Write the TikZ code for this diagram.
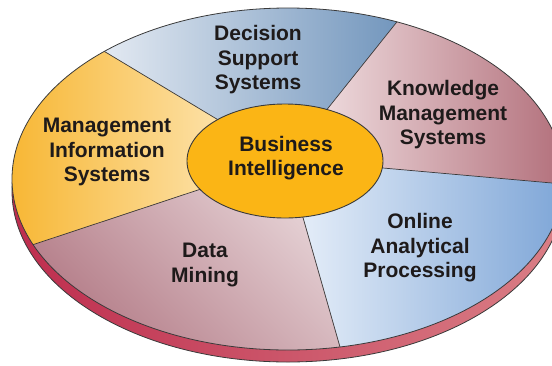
\documentclass[tikz,border=0pt]{standalone}
\usepackage{fontspec}
\setmainfont{Liberation Sans}
\usepackage{tikz}
\usetikzlibrary{calc,shapes.geometric}
\definecolor{misA}{HTML}{F7B42C}
\definecolor{misB}{HTML}{FDE6B5}
\definecolor{dssA}{HTML}{E8EDF4}
\definecolor{dssB}{HTML}{6E93BB}
\definecolor{kmsA}{HTML}{F0DFE1}
\definecolor{kmsB}{HTML}{B06B77}
\definecolor{olapA}{HTML}{EAF1FA}
\definecolor{olapB}{HTML}{7AA3D6}
\definecolor{dmA}{HTML}{B07682}
\definecolor{dmB}{HTML}{E8D6D9}
\definecolor{randA}{HTML}{BE2D4E}
\definecolor{randB}{HTML}{DA7F86}
\definecolor{biFarbe}{HTML}{FBB515}
\definecolor{linie}{HTML}{3A3A3A}
\definecolor{schrift}{HTML}{1E1A1A}
\tikzset{
  beschriftung/.style={align=center,text=schrift,font=\fontsize{21}{24.5}\selectfont\bfseries},
  trennlinie/.style={draw=linie,line width=0.7pt}
}

\begin{document}
\begin{tikzpicture}[x=1pt,y=-1pt]
%Alle Masse in Pixeln vom Bild, y zeigt nach unten
\useasboundingbox (0,0) rectangle (552,365);
  \pgfmathsetmacro{\rx}{276}
  \pgfmathsetmacro{\ry}{171}
  \pgfmathsetmacro{\dicke}{12}
\coordinate (M) at (285,161);
%innere Punkte liegen unter dem Oval, aeussere auf dem Rand
\coordinate (i1) at (225,124);   \coordinate (o1) at (107,53);
\coordinate (i2) at (321,117);   \coordinate (o2) at (396,23);
\coordinate (i3) at (366,166.5); \coordinate (o3) at (552,183);
\coordinate (i4) at (300,207);   \coordinate (o4) at (340,347);
\coordinate (i5) at (213,185);   \coordinate (o5) at (35,244);
\foreach \k in {1,...,5}{
  \coordinate (a\k) at ($(i\k)!10!(o\k)$);
}
%Rand der Scheibe
\shade[left color=randA,right color=randB,draw=linie,line width=0.8pt] (288,179+\dicke) ellipse [x radius=\rx pt,y radius=\ry pt];
\begin{scope}
\clip (288,179) ellipse [x radius=\rx pt,y radius=\ry pt];
\foreach \k/\n/\fa/\fb/\w/\xa/\ya/\xb/\yb in {1/2/dssA/dssB/90/100/0/400/130,
    2/3/kmsA/kmsB/90/320/10/565/190, 3/4/olapA/olapB/90/295/160/565/355,
    4/5/dmA/dmB/135/30/180/350/355, 5/1/misA/misB/90/5/40/235/265}{
  \begin{scope}
  \clip (M) -- (i\k) -- (a\k) -- (a\n) -- (i\n) -- cycle;
  \shade[left color=\fa,right color=\fb,shading angle=\w] (\xa-10,\ya-10) rectangle (\xb+10,\yb+10);
  \end{scope}
}
\foreach \k in {1,...,5}{
  \draw[trennlinie] (i\k) -- (a\k);
}
\end{scope}
\draw[linie,line width=0.8pt] (288,179) ellipse [x radius=\rx pt,y radius=\ry pt];
%Mitte
\node[ellipse,draw=linie,line width=0.9pt,fill=biFarbe,minimum width=196pt,minimum height=114pt,inner sep=0pt] (biOval) at (M) {};
\node[beschriftung] (bi) at (286,158) {Business\\Intelligence};
\node[beschriftung] (dss) at (258,60) {Decision\\Support\\Systems};
\node[beschriftung] (kms) at (443,115) {Knowledge\\Management\\Systems};
\node[beschriftung] (mis) at (107,152) {Management\\Information\\Systems};
\node[beschriftung] (olap) at (420,248) {Online\\Analytical\\Processing};
\node[beschriftung] (dm) at (205,265) {Data\\Mining};
\end{tikzpicture}
\end{document}
